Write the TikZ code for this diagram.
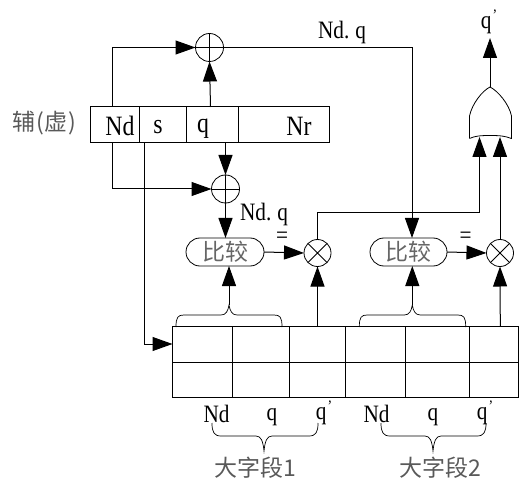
\documentclass[tikz,border=0pt]{standalone}
\usepackage{fontspec}
\usetikzlibrary{arrows.meta,calc}
\newfontfamily\latf[FakeStretch=0.85]{Liberation Serif}
\newfontfamily\cjkf{Noto Sans CJK SC}
\newcommand{\qpr}{q\raisebox{8pt}{\kern1pt\fontsize{16}{16}\selectfont ’}}
\tikzset{
  wire/.style={draw=black,line width=1pt},
  arr/.style={wire,-{Triangle[length=20pt,width=14pt]}},
  cell/.style={draw=black,line width=1pt,rectangle,inner sep=0pt,outer sep=0pt,minimum height=#1},
  cell/.default=36pt,
  lat/.style={inner sep=0pt,font=\latf\fontsize{28}{28}\selectfont},
  latsm/.style={inner sep=0pt,font=\latf\fontsize{25}{25}\selectfont},
  cn/.style={inner sep=0pt,text=black!65,font=\cjkf\fontsize{23}{23}\selectfont},
  xorc/.style={draw=black,line width=0.8pt,circle,minimum size=28pt,inner sep=0pt,outer sep=0pt,
    path picture={\draw[line width=0.8pt] (path picture bounding box.north)--(path picture bounding box.south)
      (path picture bounding box.west)--(path picture bounding box.east);}},
  mulc/.style={draw=black,line width=0.8pt,circle,minimum size=27pt,inner sep=0pt,outer sep=0pt,
    path picture={\draw[line width=0.8pt] (path picture bounding box.north west)--(path picture bounding box.south east)
      (path picture bounding box.south west)--(path picture bounding box.north east);}},
  cmp/.style={draw=black,line width=0.8pt,rectangle,rounded corners=14pt,minimum height=28pt,inner sep=0pt,outer sep=0pt,
    text=black!60,font=\cjkf\fontsize{23}{23}\selectfont},
  brace/.style={draw=black,line width=0.7pt},
}
\newcommand{\upbrace}[3]{%
  \draw[brace] (#1,327) .. controls (#1,317) and (#1+2,315) .. (#1+8,315) -- (#3-8,315)
     .. controls (#3-3,315) and (#3-1,311) .. (#3,305)
     .. controls (#3+1,311) and (#3+3,315) .. (#3+8,315) -- (#2-8,315)
     .. controls (#2-2,315) and (#2,317) .. (#2,327);}
\newcommand{\downbrace}[3]{%
  \draw[brace] (#1,423) .. controls (#1,432) and (#1+2,436) .. (#1+9,436) -- (#3-8,436)
     .. controls (#3-3,436) and (#3-1,441) .. (#3,451)
     .. controls (#3+1,441) and (#3+3,436) .. (#3+8,436) -- (#2-9,436)
     .. controls (#2-2,436) and (#2,432) .. (#2,423);}
\begin{document}
\begin{tikzpicture}[x=1pt,y=-1pt]
\useasboundingbox (0,0) rectangle (529,502);
% register
\node[cell,minimum width=49pt]  (rnd) at (115,125) {};
\node[cell,minimum width=47pt]  (rs)  at (163,125) {};
\node[cell,minimum width=52pt]  (rq)  at (212.5,125) {};
\node[cell,minimum width=91pt]  (rnr) at (284,125) {};
\node[lat] (tnd) at (120,126) {Nd};
\node[lat] (ts)  at (158,127) {s};
\node[lat] (tq)  at (203,129) {q};
\node[lat] (tnr) at (299,126) {Nr};
\node[cn] (fu) at (44.5,123) {辅\hspace{1pt}(\hspace{1pt}虚\hspace{1pt})};
% xors, multipliers, comparators
\node[xorc] (x1) at (209.5,47.5) {};
\node[xorc] (x2) at (225.5,189) {};
\node[cmp,minimum width=78pt] (cp1) at (225,252) {比较};
\node[cmp,minimum width=77pt] (cp2) at (408.5,252) {比较};
\node[mulc] (m1) at (317.5,253) {};
\node[mulc] (m2) at (500,253) {};
% table
\foreach \n/\cx/\w in {a/202.5/60,b/261/57,c/317.5/56,d/375.5/60,e/437.5/64,f/494/49}{
  \node[cell=36pt,minimum width=\w pt] (t\n1) at (\cx,344) {};
  \node[cell=35pt,minimum width=\w pt] (t\n2) at (\cx,379.5) {};
}
% OR gate
\coordinate (orout) at (490,87);
\coordinate (orin1) at (479.5,137);
\coordinate (orin2) at (500,137);
\coordinate (ortop) at (490,38);
\draw[wire,line width=0.8pt] (469.5,138.5) -- (469.5,116) .. controls (472,104) and (482,91) .. (orout)
   .. controls (498,91) and (509,104) .. (511.5,116) -- (511.5,138.5)
   .. controls (505,136) and (500,135.5) .. (490,135.5) .. controls (480,135.5) and (475,136) .. (469.5,138.5);
% connectors
\coordinate (ndup) at (112,107);
\coordinate (nddn) at (112,143);
\coordinate (sdn) at (144.5,143);
\coordinate (qup) at (210.5,107);
\coordinate (qdn) at (225.5,143);
\coordinate (b1) at (229,305);
\coordinate (b2) at (412.3,305);
\coordinate (cp1top) at (225.5,238);
\coordinate (cp2top) at (412,238);
\coordinate (cp1bot) at (229,266);
\coordinate (cp2bot) at (412.3,266);
\coordinate (tm1) at (317.5,326);
\coordinate (tm2) at (500.3,326);
\draw[arr] (ndup) |- (x1.west);
\draw[arr] (qup) -- (x1.south);
\draw[arr] (qdn) -- (x2.north);
\draw[arr] (nddn) |- (x2.west);
\draw[arr] (x2.south) -- (cp1top);
\draw[arr] (sdn) |- (ta1.west);
\draw[arr] (x1.east) -| (cp2top);
\draw[arr] (cp1.east) -- (m1.west);
\draw[arr] (cp2.east) -- (m2.west);
\draw[arr] (m1.north) |- (479.5,213) -- (orin1);
\draw[arr] (m2.north) -- (orin2);
\draw[arr] (orout) -- (ortop);
\draw[arr] (b1) -- (cp1bot);
\draw[arr] (b2) -- (cp2bot);
\draw[arr] (tm1) -- (m1.south);
\draw[arr] (tm2) -- (m2.south);
% braces
\upbrace{176}{282}{229}
\upbrace{359.3}{465.7}{412.3}
\downbrace{212}{318}{264}
\downbrace{381}{486}{433}
% labels
\node[latsm] (l1) at (342,32) {Nd.\hspace{6pt}q};
\node[latsm] (l2) at (264,214) {Nd.\hspace{6pt}q};
\node[latsm] (l3) at (489,22) {\qpr};
\node[latsm] (e1) at (282,238) {=};
\node[latsm] (e2) at (465.5,238) {=};
\node[latsm] (b1a) at (216.5,414) {Nd};
\node[latsm] (b1b) at (272,417) {q};
\node[latsm] (b1c) at (324,413) {\qpr};
\node[latsm] (b2a) at (376.5,414) {Nd};
\node[latsm] (b2b) at (433,417) {q};
\node[latsm] (b2c) at (485,413) {\qpr};
\node[cn] (g1) at (255,468) {大字段1};
\node[cn] (g2) at (440,468) {大字段2};
\end{tikzpicture}
\end{document}
